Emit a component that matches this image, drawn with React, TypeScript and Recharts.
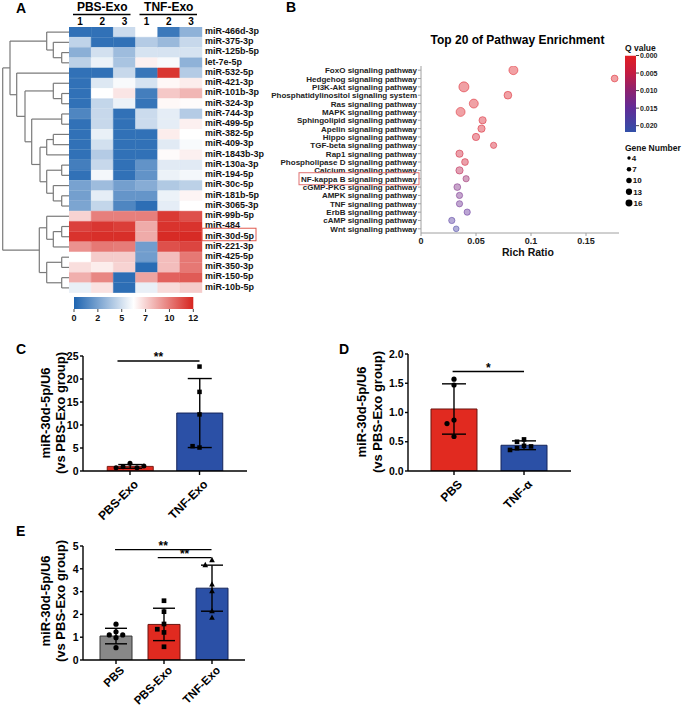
import React from "react";
import {
  BarChart,
  Bar,
  Cell,
  XAxis,
  YAxis,
  ZAxis,
  ReferenceLine,
  ScatterChart,
  Scatter,
  ComposedChart,
  ErrorBar,
  LabelList,
} from "recharts";

const FONT = "'Liberation Sans', Arial, Helvetica, sans-serif";

// ---------- A: miRNA heatmap ----------
const mirnaNames = [
  "miR-466d-3p", "miR-375-3p", "miR-125b-5p", "let-7e-5p", "miR-532-5p", "miR-421-3p",
  "miR-101b-3p", "miR-324-3p", "miR-744-3p", "miR-499-5p", "miR-382-5p", "miR-409-3p",
  "miR-1843b-3p", "miR-130a-3p", "miR-194-5p", "miR-30c-5p", "miR-181b-5p", "miR-3065-3p",
  "miR-99b-5p", "miR-484", "miR-30d-5p", "miR-221-3p", "miR-425-5p", "miR-350-3p",
  "miR-150-5p", "miR-10b-5p",
];
const sampleGroups = ["PBS-Exo", "TNF-Exo"];
const sampleReps = ["1", "2", "3"];
// columns: PBS-Exo 1,2,3 | TNF-Exo 1,2,3
const heatValues = [
  [0.5, 0.5, 4.6, 6.0, 0.8, 3.0],
  [4.3, 0.5, 0.5, 4.0, 3.3, 4.5],
  [2.9, 4.8, 3.4, 4.9, 4.9, 4.9],
  [4.2, 5.5, 3.7, 6.4, 5.8, 3.0],
  [0.5, 0.5, 4.5, 0.7, 11.5, 4.0],
  [0.5, 5.1, 5.8, 4.9, 6.2, 6.5],
  [0.5, 6.0, 6.7, 1.0, 7.5, 8.0],
  [0.5, 4.4, 5.5, 0.6, 6.2, 6.1],
  [1.3, 4.5, 0.5, 4.6, 5.3, 4.0],
  [0.5, 4.5, 0.5, 4.6, 5.3, 6.4],
  [0.5, 5.4, 0.5, 0.5, 6.5, 6.0],
  [0.5, 4.8, 0.5, 0.5, 5.2, 5.8],
  [0.5, 4.0, 0.5, 0.5, 6.1, 6.4],
  [1.0, 4.5, 0.5, 1.8, 5.2, 5.2],
  [0.5, 5.7, 0.5, 1.8, 5.5, 5.7],
  [2.4, 3.4, 2.3, 2.8, 3.9, 4.2],
  [2.3, 5.3, 1.9, 1.9, 5.5, 6.3],
  [2.5, 4.4, 1.3, 0.4, 5.3, 6.0],
  [7.2, 9.5, 9.5, 9.5, 11.4, 10.8],
  [11.2, 11.5, 11.3, 8.3, 11.6, 11.6],
  [11.6, 11.7, 11.7, 8.3, 11.8, 11.8],
  [9.0, 9.7, 9.6, 2.2, 10.8, 11.1],
  [6.0, 7.4, 7.4, 2.2, 7.8, 9.7],
  [6.9, 6.5, 7.2, 0.3, 7.8, 9.7],
  [8.2, 9.3, 0.4, 8.5, 10.3, 10.5],
  [5.4, 6.8, 0.4, 5.4, 7.0, 7.4],
];
const heatScaleTicks = [0, 2.4, 4.8, 7.2, 9.6, 12];
// clustering: [left node, right node, merge height]; leaves are 0..25, merges numbered from 26
const dendroMerges: [number, number, number][] = [
  [2, 3, 7.3], [1, 26, 15.7], [0, 27, 22.3],
  [6, 7, 7.3], [5, 29, 15.7], [8, 9, 7.3], [10, 11, 15.7], [32, 12, 22.3],
  [13, 14, 7.3], [16, 17, 7.3], [15, 35, 15.7], [34, 36, 22.3], [33, 37, 29],
  [31, 38, 37.3], [30, 39, 44], [4, 40, 52.3], [28, 41, 59],
  [19, 20, 7.3], [43, 21, 15.7], [18, 44, 22.3], [22, 23, 7.3], [24, 25, 7.3],
  [46, 47, 22.3], [45, 48, 29.7], [42, 49, 66.3],
];

// ---------- B: pathway enrichment ----------
const pathwayNames = [
  "FoxO signaling pathway", "Hedgehog signaling pathway", "PI3K-Akt signaling pathway",
  "Phosphatidylinositol signaling system", "Ras signaling pathway", "MAPK signaling pathway",
  "Sphingolipid signaling pathway", "Apelin signaling pathway", "Hippo signaling pathway",
  "TGF-beta signaling pathway", "Rap1 signaling pathway", "Phospholipase D signaling pathway",
  "Calcium signaling pathway", "NF-kappa B signaling pathway", "cGMP-PKG signaling pathway",
  "AMPK signaling pathway", "TNF signaling pathway", "ErbB signaling pathway",
  "cAMP signaling pathway", "Wnt signaling pathway",
];
const richRatio = [0.084, 0.176, 0.039, 0.079, 0.048, 0.036, 0.056, 0.055, 0.05, 0.066, 0.035, 0.04, 0.035, 0.041, 0.033, 0.035, 0.035, 0.042, 0.028, 0.032];
const geneNumber = [13, 8, 16, 10, 13, 13, 9, 9, 9, 7, 9, 8, 9, 7, 8, 7, 7, 7, 7, 6];
const qValue = [0.0005, 0.0008, 0.001, 0.001, 0.001, 0.001, 0.0015, 0.0015, 0.002, 0.002, 0.003, 0.003, 0.006, 0.009, 0.012, 0.013, 0.014, 0.015, 0.017, 0.019];
const richTicks = [0, 0.05, 0.1, 0.15];
const qTicks = [0, 0.005, 0.01, 0.015, 0.02];
const qScaleMax = 0.0218;
const geneLegend = [4, 7, 10, 13, 16];

// ---------- C ----------
const groupsC = ["PBS-Exo", "TNF-Exo"];
const meanC = [1.0, 12.6];
const sdC = [0.4, 7.5];
const pointsC = [
  [1.67, 0.94, 0.73, 0.73, 1.09],
  [22.7, 17.2, 12.3, 5.1, 5.4],
];
const ticksC = [0, 5, 10, 15, 20, 25];
const sigC = [{ from: -0.18, to: 1.0, y: 23.9, text: "**" }];

// ---------- D ----------
const groupsD = ["PBS", "TNF-α"];
const meanD = [1.06, 0.44];
const sdD = [0.43, 0.075];
const pointsD = [
  [1.57, 1.47, 0.87, 0.81, 0.59],
  [0.54, 0.5, 0.43, 0.42, 0.39, 0.36],
];
const ticksD = [0, 0.5, 1, 1.5, 2];
const sigD = [{ from: -0.02, to: 1.0, y: 1.7, text: "*" }];

// ---------- E ----------
const groupsE = ["PBS", "PBS-Exo", "TNF-Exo"];
const meanE = [1.05, 1.56, 3.15];
const sdE = [0.34, 0.71, 1.01];
const pointsE = [
  [1.57, 1.24, 0.98, 1.1, 1.1, 0.54],
  [2.6, 2.12, 1.58, 1.35, 1.21, 0.58],
  [4.39, 4.17, 3.32, 3.03, 2.15, 1.86],
];
const ticksE = [0, 1, 2, 3, 4, 5];
const sigE = [
  { from: -0.02, to: 1.99, y: 4.84, text: "**" },
  { from: 0.87, to: 1.99, y: 4.49, text: "**" },
];

// ---------- colours ----------
const HEAT_BLUE = [30, 100, 176];
const HEAT_WHITE = [255, 255, 255];
const HEAT_RED = [214, 36, 30];
const Q_STOPS: [number, number[]][] = [
  [0, [226, 30, 34]],
  [0.005, [196, 28, 66]],
  [0.01, [140, 34, 112]],
  [0.015, [96, 44, 152]],
  [0.0218, [50, 80, 168]],
];
const RED = "#e12a20";
const BLUE = "#2b50a6";
const GRAY = "#888888";

function mix(a: number[], b: number[], t: number) {
  return `rgb(${a.map((v, i) => Math.round(v + (b[i] - v) * t)).join(",")})`;
}
function heatColor(v: number) {
  const t = Math.max(0, Math.min(1, v / 12));
  return t < 0.5 ? mix(HEAT_BLUE, HEAT_WHITE, t / 0.5) : mix(HEAT_WHITE, HEAT_RED, (t - 0.5) / 0.5);
}
function qColor(q: number) {
  for (let i = 1; i < Q_STOPS.length; i++) {
    const [q0, c0] = Q_STOPS[i - 1];
    const [q1, c1] = Q_STOPS[i];
    if (q <= q1) return mix(c0, c1, (q - q0) / (q1 - q0));
  }
  const last = Q_STOPS[Q_STOPS.length - 1][1];
  return mix(last, last, 0);
}

// spreads tied values sideways like a column scatter
function swarm(values: number[], group: number, yTol: number, step: number) {
  const placed: { x: number; y: number }[] = [];
  values.forEach((v) => {
    for (let k = 0; k < 15; k++) {
      const off = k === 0 ? 0 : (k % 2 ? -1 : 1) * Math.ceil(k / 2) * step;
      const hit = placed.some((p) => Math.abs(p.y - v) < yTol && Math.abs(p.x - off) < step * 0.9);
      if (!hit) {
        placed.push({ x: off, y: v });
        break;
      }
    }
  });
  return placed.map((p) => ({ x: group + p.x, y: p.y }));
}

const Abs = ({ left, top, children }: any) => (
  <div style={{ position: "absolute", left, top }}>{children}</div>
);

// ---------- A components ----------
const MirnaTick = ({ x, y, payload }: any) => {
  const boxed = payload.value === "miR-30d-5p";
  return (
    <g>
      {boxed && <rect x={x} y={y - 8.5} width={54} height={12.5} fill="none" stroke="#e05a50" strokeWidth={1} />}
      <text x={x + 3} y={y} dy={1.8} fontSize={9} fontWeight={700} fill="#111">
        {payload.value}
      </text>
    </g>
  );
};

function Heatmap() {
  const cols = sampleGroups.flatMap((g) => sampleReps.map((r) => `${g} ${r}`));
  const rows = mirnaNames.map((name) => {
    const row: any = { name };
    cols.forEach((_, j) => (row[`c${j}`] = 1));
    return row;
  });
  return (
    <BarChart layout="vertical" width={205} height={266} data={rows} margin={{ top: 0, right: 0, bottom: 0, left: 0 }} barCategoryGap={0} barGap={0}>
      <XAxis type="number" domain={[0, cols.length]} hide />
      <YAxis type="category" dataKey="name" orientation="right" width={72} interval={0} axisLine={false} tickLine={false} tickSize={0} tickMargin={0} tick={<MirnaTick />} />
      {cols.map((c, j) => (
        <Bar key={c} dataKey={`c${j}`} stackId="heat" isAnimationActive={false}>
          {heatValues.map((r, i) => (
            <Cell key={i} fill={heatColor(r[j])} stroke={heatColor(r[j])} strokeWidth={0.4} />
          ))}
        </Bar>
      ))}
    </BarChart>
  );
}

function Dendrogram() {
  const pos = mirnaNames.map((_, i) => ({ h: 0, y: i }));
  const segs: { x1: number; y1: number; x2: number; y2: number }[] = [];
  dendroMerges.forEach(([a, b, h]) => {
    const A = pos[a];
    const B = pos[b];
    segs.push({ x1: A.h, y1: A.y, x2: h, y2: A.y });
    segs.push({ x1: B.h, y1: B.y, x2: h, y2: B.y });
    segs.push({ x1: h, y1: A.y, x2: h, y2: B.y });
    pos.push({ h, y: (A.y + B.y) / 2 });
  });
  const leaves = mirnaNames.map((_, i) => ({ h: 0, y: i }));
  return (
    <ComposedChart width={69} height={266} data={leaves} margin={{ top: 0, right: 0, bottom: 0, left: 0 }}>
      <XAxis type="number" dataKey="h" domain={[0, 69]} reversed hide allowDataOverflow />
      <YAxis type="number" domain={[-0.5, mirnaNames.length - 0.5]} reversed hide allowDataOverflow />
      <Scatter data={leaves} dataKey="y" shape={() => <g />} isAnimationActive={false} />
      {segs.map((s, i) => (
        <ReferenceLine key={i} segment={[{ x: s.x1, y: s.y1 }, { x: s.x2, y: s.y2 }]} stroke="#7a7a7a" strokeWidth={1.2} ifOverflow="visible" />
      ))}
    </ComposedChart>
  );
}

function HeatScale() {
  return (
    <BarChart layout="vertical" width={140} height={29} data={[{ k: "scale", v: 12 }]} margin={{ top: 1, right: 10.7, bottom: 0, left: 10 }} barCategoryGap={0}>
      <defs>
        <linearGradient id="heatGrad" x1="0" y1="0" x2="1" y2="0">
          <stop offset="0" stopColor={mix(HEAT_BLUE, HEAT_BLUE, 0)} />
          <stop offset="0.5" stopColor="#ffffff" />
          <stop offset="1" stopColor={mix(HEAT_RED, HEAT_RED, 0)} />
        </linearGradient>
      </defs>
      <XAxis type="number" domain={[0, 12]} ticks={heatScaleTicks} interval={0} height={16} tickSize={3} tickMargin={3} axisLine={false} tickLine={{ stroke: "#444" }} tick={{ fontSize: 9, fontWeight: 700, fill: "#111" }} tickFormatter={(v: number) => String(Math.round(v))} />
      <YAxis type="category" dataKey="k" hide />
      <Bar dataKey="v" fill="url(#heatGrad)" isAnimationActive={false} />
    </BarChart>
  );
}

// ---------- B components ----------
const PathwayTick = ({ x, y, payload }: any) => {
  const name = pathwayNames[Math.round(payload.value)];
  const boxed = name === "NF-kappa B signaling pathway";
  return (
    <g>
      {boxed && <rect x={x - 118} y={y - 6} width={120} height={12} fill="none" stroke="#e07070" strokeWidth={1} />}
      <text x={x} y={y} dy={3} textAnchor="end" fontSize={8} fontWeight={700} fill="#222">
        {name}
      </text>
    </g>
  );
};

function PathwayBubbles() {
  const data = pathwayNames.map((_, i) => ({ x: richRatio[i], y: i, z: geneNumber[i], q: qValue[i] }));
  return (
    <ScatterChart width={354} height={208} margin={{ top: 11, right: 0, bottom: 0, left: 0 }}>
      <XAxis type="number" dataKey="x" domain={[0, 0.18]} ticks={richTicks} allowDataOverflow height={30} tickSize={3} tickMargin={2} axisLine={{ stroke: "#a0a0a0" }} tickLine={{ stroke: "#a0a0a0" }} tick={{ fill: "#222", fontSize: 9, fontWeight: 700 }} tickFormatter={(v: number) => String(v)} />
      <YAxis type="number" dataKey="y" domain={[-0.5, pathwayNames.length - 0.5]} reversed ticks={pathwayNames.map((_, i) => i)} interval={0} allowDataOverflow width={156} tickSize={3} tickMargin={1} axisLine={{ stroke: "#a0a0a0" }} tickLine={{ stroke: "#a0a0a0" }} tick={<PathwayTick />} />
      <ZAxis type="number" dataKey="z" domain={[4, 16]} range={[15, 79]} />
      <Scatter data={data} isAnimationActive={false}>
        {data.map((d, i) => (
          <Cell key={i} fill={qColor(d.q)} fillOpacity={0.42} stroke={qColor(d.q)} strokeOpacity={0.5} strokeWidth={1} />
        ))}
      </Scatter>
    </ScatterChart>
  );
}

function QValueBar() {
  return (
    <BarChart width={64} height={88} data={[{ k: "q", v: qScaleMax }]} margin={{ top: 5.5, right: 0, bottom: 6, left: 5 }} barCategoryGap={0}>
      <defs>
        <linearGradient id="qGrad" x1="0" y1="0" x2="0" y2="1">
          {Q_STOPS.map(([q, c]) => (
            <stop key={q} offset={q / qScaleMax} stopColor={mix(c, c, 0)} />
          ))}
        </linearGradient>
      </defs>
      <XAxis dataKey="k" hide />
      <YAxis type="number" orientation="right" domain={[0, qScaleMax]} reversed ticks={qTicks} interval={0} allowDataOverflow width={48} axisLine={false} tickSize={3} tickMargin={1} tickLine={{ stroke: "#444" }} tick={{ fontSize: 7, fontWeight: 700, fill: "#222" }} tickFormatter={(v: number) => v.toFixed(3)} />
      <Bar dataKey="v" fill="url(#qGrad)" isAnimationActive={false} />
    </BarChart>
  );
}

function GeneLegend() {
  const data = geneLegend.map((g, i) => ({ x: 0, y: i, z: g }));
  return (
    <ScatterChart width={55} height={57} margin={{ top: 7, right: 0, bottom: 5, left: 9 }}>
      <XAxis type="number" dataKey="x" domain={[0, 1]} hide />
      <YAxis type="number" dataKey="y" domain={[0, geneLegend.length - 1]} reversed hide />
      <ZAxis type="number" dataKey="z" domain={[4, 16]} range={[9, 38]} />
      <Scatter data={data} fill="#000" isAnimationActive={false}>
        <LabelList dataKey="z" position="right" offset={1} style={{ fontSize: 8, fontWeight: 700, fill: "#111" }} />
      </Scatter>
    </ScatterChart>
  );
}

// ---------- C / D / E ----------
const CatTick = ({ x, y, payload, labels, fontSize, dy }: any) => {
  const ax = x + 9;
  const ay = y + dy;
  return (
    <text x={ax} y={ay} transform={`rotate(-45 ${ax} ${ay})`} textAnchor="end" fontSize={fontSize} fontWeight={700} fill="#000">
      {labels[Math.round(payload.value)]}
    </text>
  );
};

const dot = (r: number) => (p: any) => <circle cx={p.cx} cy={p.cy} r={r} fill="#000" />;
const square = (s: number) => (p: any) => <rect x={p.cx - s / 2} y={p.cy - s / 2} width={s} height={s} fill="#000" />;
const tri = (s: number) => (p: any) => (
  <polygon points={`${p.cx},${p.cy - s * 0.55} ${p.cx - s / 2},${p.cy + s * 0.4} ${p.cx + s / 2},${p.cy + s * 0.4}`} fill="#000" />
);

function DotBarChart(props: any) {
  const { width, height, margin, xDomain, xHeight, yDomain, yTicks, yFmt, yFont, groups, means, sds, points, fills, strokes, shapes, sig, yTol, step, barSize, capWidth, labelFont, labelDy } = props;
  const bars = groups.map((_: string, i: number) => ({ x: i, mean: means[i], sd: sds[i] }));
  const axisStyle = { stroke: "#000", strokeWidth: 1.4 };
  return (
    <ComposedChart width={width} height={height} margin={margin} data={bars}>
      <XAxis type="number" dataKey="x" domain={xDomain} ticks={groups.map((_: string, i: number) => i)} interval={0} allowDataOverflow height={xHeight} tickSize={4} tickMargin={2} axisLine={axisStyle} tickLine={axisStyle} tick={<CatTick labels={groups} fontSize={labelFont} dy={labelDy} />} />
      <XAxis xAxisId="pts" type="number" dataKey="x" domain={xDomain} allowDataOverflow hide />
      <YAxis type="number" domain={yDomain} ticks={yTicks} interval={0} allowDataOverflow width={30} tickSize={3} tickMargin={1.5} axisLine={axisStyle} tickLine={axisStyle} tick={{ fill: "#000", fontSize: yFont, fontWeight: 700 }} tickFormatter={yFmt} />
      <Bar dataKey="mean" barSize={barSize} isAnimationActive={false}>
        {bars.map((_: any, i: number) => (
          <Cell key={i} fill={fills[i]} stroke={strokes[i]} strokeWidth={1} />
        ))}
        <ErrorBar dataKey="sd" width={capWidth / 2} stroke="#000" strokeWidth={1.4} />
      </Bar>
      {points.map((vals: number[], i: number) => (
        <Scatter key={i} xAxisId="pts" data={swarm(vals, i, yTol, step)} dataKey="y" shape={shapes[i]} isAnimationActive={false} />
      ))}
      {sig.map((s: any, i: number) => (
        <ReferenceLine key={i} segment={[{ x: s.from, y: s.y }, { x: s.to, y: s.y }]} stroke="#000" strokeWidth={1.4} ifOverflow="visible" label={{ value: s.text, position: "top", offset: 0, fill: "#000", fontSize: 12, fontWeight: 700 }} />
      ))}
    </ComposedChart>
  );
}

function YTitle({ x1, x2, cy }: { x1: number; x2: number; cy: number }) {
  return (
    <g fontSize={13} fontWeight={700} fill="#000">
      <text transform={`translate(${x1},${cy}) rotate(-90)`} textAnchor="middle">miR-30d-5p/U6</text>
      <text transform={`translate(${x2},${cy}) rotate(-90)`} textAnchor="middle">(vs PBS-Exo group)</text>
    </g>
  );
}

function Overlay() {
  const colW = 133 / 6;
  return (
    <svg width={685} height={709} style={{ position: "absolute", left: 0, top: 0, pointerEvents: "none", fontFamily: FONT }}>
      <g fontSize={14} fontWeight={700} fill="#000">
        <text x={16} y={12.5}>A</text>
        <text x={286} y={12}>B</text>
        <text x={16} y={354}>C</text>
        <text x={339} y={354}>D</text>
        <text x={16} y={536}>E</text>
      </g>
      {sampleGroups.map((g, gi) => {
        const start = 69 + gi * colW * 3;
        const end = start + colW * 3;
        return (
          <g key={g} fontWeight={700} fill="#000">
            <text x={(start + end) / 2} y={11} fontSize={12} textAnchor="middle">{g}</text>
            <line x1={start + 4} x2={end - 5} y1={14.5} y2={14.5} stroke="#000" strokeWidth={1.5} />
            {sampleReps.map((r, ri) => (
              <text key={r} x={start + (ri + 0.5) * colW} y={25} fontSize={10} textAnchor="middle">{r}</text>
            ))}
          </g>
        );
      })}
      <text x={517.5} y={44} fontSize={12} fontWeight={700} textAnchor="middle" fill="#000">Top 20 of Pathway Enrichment</text>
      <text x={528} y={256} fontSize={10.5} fontWeight={700} textAnchor="middle" fill="#111">Rich Ratio</text>
      <text x={625} y={50.5} fontSize={8.5} fontWeight={700} fill="#111">Q value</text>
      <text x={625} y={151} fontSize={8.5} fontWeight={700} fill="#111">Gene Number</text>
      <YTitle x1={50} x2={64.5} cy={413} />
      <YTitle x1={366} x2={382} cy={412} />
      <YTitle x1={50} x2={64.5} cy={601} />
    </svg>
  );
}

export default function App() {
  return (
    <div style={{ position: "absolute", left: 0, top: 0, width: 685, height: 709, background: "#fff", fontFamily: FONT, overflow: "hidden" }}>
      <Abs left={0} top={27}>
        <Dendrogram />
      </Abs>
      <Abs left={69} top={27}>
        <Heatmap />
      </Abs>
      <Abs left={64} top={296}>
        <HeatScale />
      </Abs>
      <Abs left={265} top={55}>
        <PathwayBubbles />
      </Abs>
      <Abs left={620} top={50}>
        <QValueBar />
      </Abs>
      <Abs left={620} top={151}>
        <GeneLegend />
      </Abs>
      <Abs left={0} top={340}>
        <DotBarChart
          width={260} height={190} margin={{ top: 16, right: 13, bottom: 0, left: 53 }}
          xDomain={[-0.676, 1.683]} xHeight={59} yDomain={[0, 25]} yTicks={ticksC} yFmt={(v: number) => String(v)} yFont={10.5}
          groups={groupsC} means={meanC} sds={sdC} points={pointsC}
          fills={[RED, BLUE]} strokes={["#7a1a12", "#14245a"]} shapes={[dot(2.5), square(4.5)]}
          sig={sigC} yTol={1.25} step={0.1} barSize={46} capWidth={24} labelFont={12} labelDy={8}
        />
      </Abs>
      <Abs left={330} top={340}>
        <DotBarChart
          width={255} height={190} margin={{ top: 14, right: 14, bottom: 0, left: 48 }}
          xDomain={[-0.657, 1.671]} xHeight={59} yDomain={[0, 2]} yTicks={ticksD} yFmt={(v: number) => v.toFixed(1)} yFont={10.5}
          groups={groupsD} means={meanD} sds={sdD} points={pointsD}
          fills={[RED, BLUE]} strokes={["#6a1510", "#14245a"]} shapes={[dot(2.6), square(4.6)]}
          sig={sigD} yTol={0.1} step={0.1} barSize={46} capWidth={24} labelFont={12} labelDy={8}
        />
      </Abs>
      <Abs left={0} top={530}>
        <DotBarChart
          width={260} height={179} margin={{ top: 16, right: 15, bottom: 0, left: 53 }}
          xDomain={[-0.6875, 2.6875]} xHeight={49} yDomain={[0, 5]} yTicks={ticksE} yFmt={(v: number) => String(v)} yFont={10.5}
          groups={groupsE} means={meanE} sds={sdE} points={pointsE}
          fills={[GRAY, RED, BLUE]} strokes={["#333333", "#6a1510", "#14245a"]} shapes={[dot(2.6), square(4.7), tri(5.6)]}
          sig={sigE} yTol={0.25} step={0.14} barSize={32} capWidth={22} labelFont={11.5} labelDy={5}
        />
      </Abs>
      <Overlay />
    </div>
  );
}
